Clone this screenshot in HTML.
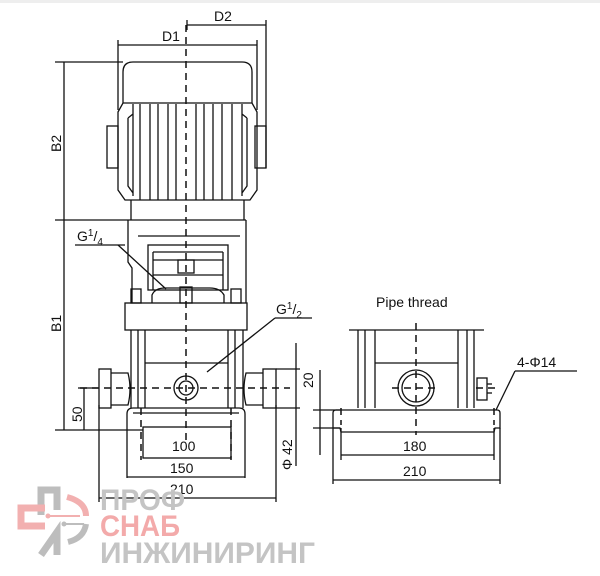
<!DOCTYPE html>
<html><head><meta charset="utf-8"><style>
html,body{margin:0;padding:0;background:#fff;width:600px;height:576px;overflow:hidden}
svg text{font-family:"Liberation Sans",sans-serif;fill:#111}
</style></head><body>
<svg width="600" height="576" viewBox="0 0 600 576" xmlns="http://www.w3.org/2000/svg">
<rect x="0" y="0" width="600" height="3" fill="#eee"/>
<g stroke="#111" stroke-width="1.3" fill="none">
<line x1="187" y1="25" x2="266" y2="25"/>
<line x1="187" y1="20" x2="187" y2="30"/>
<line x1="266" y1="20" x2="266" y2="168"/>
<line x1="118" y1="45" x2="257" y2="45"/>
<line x1="118" y1="40" x2="118" y2="110"/>
<line x1="257" y1="40" x2="257" y2="110"/>
<path d="M123,103 L123,72 Q123,62 133,62 L242,62 Q252,62 252,72 L252,103"/>
<path d="M118,112 L123,103 L252,103 L257,112 L257,190 L250,200 L125,200 L118,190 Z"/>
<rect x="107" y="126" width="11" height="42"/>
<rect x="255" y="126" width="11" height="42"/>
<path d="M133,104 L133,196 M128,118 L128,186 L133,193 M128,118 L133,114"/>
<path d="M242,104 L242,196 M247,118 L247,186 L242,193 M247,118 L242,114"/>
<line x1="140" y1="104" x2="140" y2="200"/><line x1="150" y1="104" x2="150" y2="200"/>
<line x1="158" y1="104" x2="158" y2="200"/><line x1="168" y1="104" x2="168" y2="200"/>
<line x1="176" y1="104" x2="176" y2="200"/><line x1="196" y1="104" x2="196" y2="200"/>
<line x1="204" y1="104" x2="204" y2="200"/><line x1="213" y1="104" x2="213" y2="200"/>
<line x1="222" y1="104" x2="222" y2="200"/><line x1="232" y1="104" x2="232" y2="200"/>
<path d="M131,200 L131,220 M244,200 L244,220"/>
<line x1="128" y1="220" x2="246" y2="220"/>
<path d="M128,220 L128,262 L132,268 L132,303 M246,220 L246,303"/>
<line x1="138" y1="236" x2="240" y2="236"/>
<rect x="148" y="245" width="80" height="45"/>
<line x1="153" y1="252" x2="223" y2="252"/>
<line x1="153" y1="252" x2="153" y2="290"/><line x1="223" y1="252" x2="223" y2="290"/>
<line x1="153" y1="260" x2="223" y2="260"/><line x1="153" y1="275" x2="223" y2="275"/>
<rect x="178" y="260" width="16" height="13"/>
<path d="M152,303 L152,295 Q155,288 165,288 L210,288 Q220,288 224,295 L224,303"/>
<rect x="131" y="289" width="10" height="14"/><rect x="180" y="287" width="12" height="16"/><rect x="231" y="289" width="10" height="14"/>
<rect x="125" y="303" width="122" height="27"/>
<path d="M131,330 L131,408 M243,330 L243,408"/>
<line x1="138" y1="330" x2="138" y2="408"/><line x1="145" y1="330" x2="145" y2="408"/>
<line x1="228" y1="330" x2="228" y2="408"/><line x1="235" y1="330" x2="235" y2="408"/>
<line x1="145" y1="363" x2="228" y2="363"/>
<rect x="99" y="369" width="12" height="39"/><path d="M111,373 L128,373 Q132,389 128,405 L111,405"/>
<rect x="263" y="369" width="13" height="39"/><path d="M263,373 L246,373 Q242,389 246,405 L263,405"/>
<circle cx="186" cy="388" r="12"/><circle cx="186" cy="388" r="7"/>
<path d="M127,478 L127,414 Q127,408 133,408 L239,408 Q245,408 245,414 L245,478"/>
<line x1="133" y1="413" x2="239" y2="413"/>
<rect x="143" y="427" width="88" height="31"/>
<line x1="127" y1="477" x2="245" y2="477"/>
<line x1="99" y1="498" x2="276" y2="498"/><line x1="99" y1="405" x2="99" y2="502"/><line x1="276" y1="405" x2="276" y2="502"/>
<line x1="64" y1="62" x2="64" y2="430"/>
<line x1="55" y1="62" x2="123" y2="62"/><line x1="55" y1="220" x2="128" y2="220"/><line x1="55" y1="430" x2="143" y2="430"/>
<line x1="84" y1="388" x2="84" y2="430"/><line x1="78" y1="388" x2="98" y2="388"/>
<line x1="296" y1="343" x2="296" y2="466"/>
<line x1="276" y1="369" x2="300" y2="369"/><line x1="276" y1="408" x2="300" y2="408"/>
<line x1="75" y1="245" x2="125" y2="245"/><line x1="118" y1="245" x2="166" y2="289"/>
<line x1="275" y1="318" x2="312" y2="318"/><line x1="275" y1="318" x2="207" y2="372"/>
<line x1="349" y1="330" x2="484" y2="330"/>
<path d="M358,330 L358,408 M365,330 L365,408 M375,330 L375,408 M458,330 L458,408 M467,330 L467,408 M474,330 L474,408"/>
<line x1="375" y1="363" x2="458" y2="363"/>
<circle cx="416" cy="388" r="18"/><circle cx="416" cy="388" r="14"/>
<rect x="477" y="378" width="10" height="22"/><line x1="487" y1="384" x2="492" y2="384"/><line x1="487" y1="393" x2="492" y2="393"/>
<path d="M333,428 L333,413 Q333,410 336,410 L497,410 Q500,410 500,413 L500,428 L495,428 L494,432 L341,432 L340,428 Z"/>
<line x1="341" y1="428" x2="341" y2="460"/><line x1="494" y1="428" x2="494" y2="460"/>
<line x1="341" y1="455" x2="494" y2="455"/>
<line x1="333" y1="428" x2="333" y2="484"/><line x1="500" y1="428" x2="500" y2="484"/>
<line x1="333" y1="480" x2="500" y2="480"/>
<line x1="320" y1="370" x2="320" y2="455"/>
<line x1="313" y1="410" x2="340" y2="410"/><line x1="313" y1="428" x2="340" y2="428"/>
<line x1="515" y1="371" x2="577" y2="371"/><line x1="515" y1="371" x2="496" y2="410"/>
</g>
<g stroke="#111" stroke-width="1.5" stroke-dasharray="7,5" fill="none">
<line x1="186" y1="25" x2="186" y2="445"/>
<line x1="80" y1="388" x2="290" y2="388"/>
<line x1="416" y1="323" x2="416" y2="435"/>
<line x1="392" y1="388" x2="440" y2="388"/>
<line x1="476" y1="388" x2="498" y2="388"/>
<line x1="141" y1="408" x2="141" y2="460"/><line x1="231" y1="408" x2="231" y2="460"/>
<line x1="341" y1="408" x2="341" y2="425"/><line x1="494" y1="408" x2="494" y2="425"/>
</g>
<g font-size="14">
<text x="214" y="21">D2</text>
<text x="162" y="41">D1</text>
<text transform="translate(61,152) rotate(-90)">B2</text>
<text transform="translate(61,332) rotate(-90)">B1</text>
<text transform="translate(82,422) rotate(-90)">50</text>
<text transform="translate(313,388) rotate(-90)">20</text>
<text transform="translate(292,470) rotate(-90)">Φ 42</text>
<text x="77" y="241">G<tspan font-size="10" dy="-5">1</tspan><tspan dy="5">/</tspan><tspan font-size="10" dy="4">4</tspan></text>
<text x="276" y="314">G<tspan font-size="10" dy="-5">1</tspan><tspan dy="5">/</tspan><tspan font-size="10" dy="4">2</tspan></text>
<text x="172" y="451">100</text>
<text x="170" y="473">150</text>
<text x="170" y="494">210</text>
<text x="376" y="307">Pipe thread</text>
<text x="403" y="451">180</text>
<text x="403" y="476">210</text>
<text x="517" y="367">4-Φ14</text>
</g>
<g>
<path d="M41,515 L41,490 L57,490 L57,510" stroke="#bdbdbd" stroke-width="7" fill="none"/>
<path d="M45,508 L21,508 L21,526 L45,526" stroke="#f2b0b0" stroke-width="7" fill="none"/>
<path d="M41,555 L57,532 L57,555" stroke="#bdbdbd" stroke-width="7" fill="none"/>
<path d="M67,497 Q86,502 86,516" stroke="#f2b0b0" stroke-width="6" fill="none"/>
<line x1="48" y1="516" x2="80" y2="516" stroke="#f2b0b0" stroke-width="2"/>
<circle cx="48" cy="516" r="2.5" fill="#f2b0b0"/>
<path d="M86,524 Q84,538 68,542" stroke="#bdbdbd" stroke-width="6" fill="none"/>
<line x1="64" y1="524" x2="84" y2="524" stroke="#bdbdbd" stroke-width="2"/>
<circle cx="64" cy="524" r="2.5" fill="#bdbdbd"/>
</g>
<g font-family="Liberation Sans,sans-serif" font-weight="bold" font-size="30">
<text x="100" y="510" style="fill:#c4c4c4" textLength="85" lengthAdjust="spacingAndGlyphs">ПРОФ</text>
<text x="100" y="536" style="fill:#f3aaaa" textLength="80" lengthAdjust="spacingAndGlyphs">СНАБ</text>
<text x="100" y="563" style="fill:#c4c4c4" textLength="215" lengthAdjust="spacingAndGlyphs">ИНЖИНИРИНГ</text>
</g>
</svg>
</body></html>
